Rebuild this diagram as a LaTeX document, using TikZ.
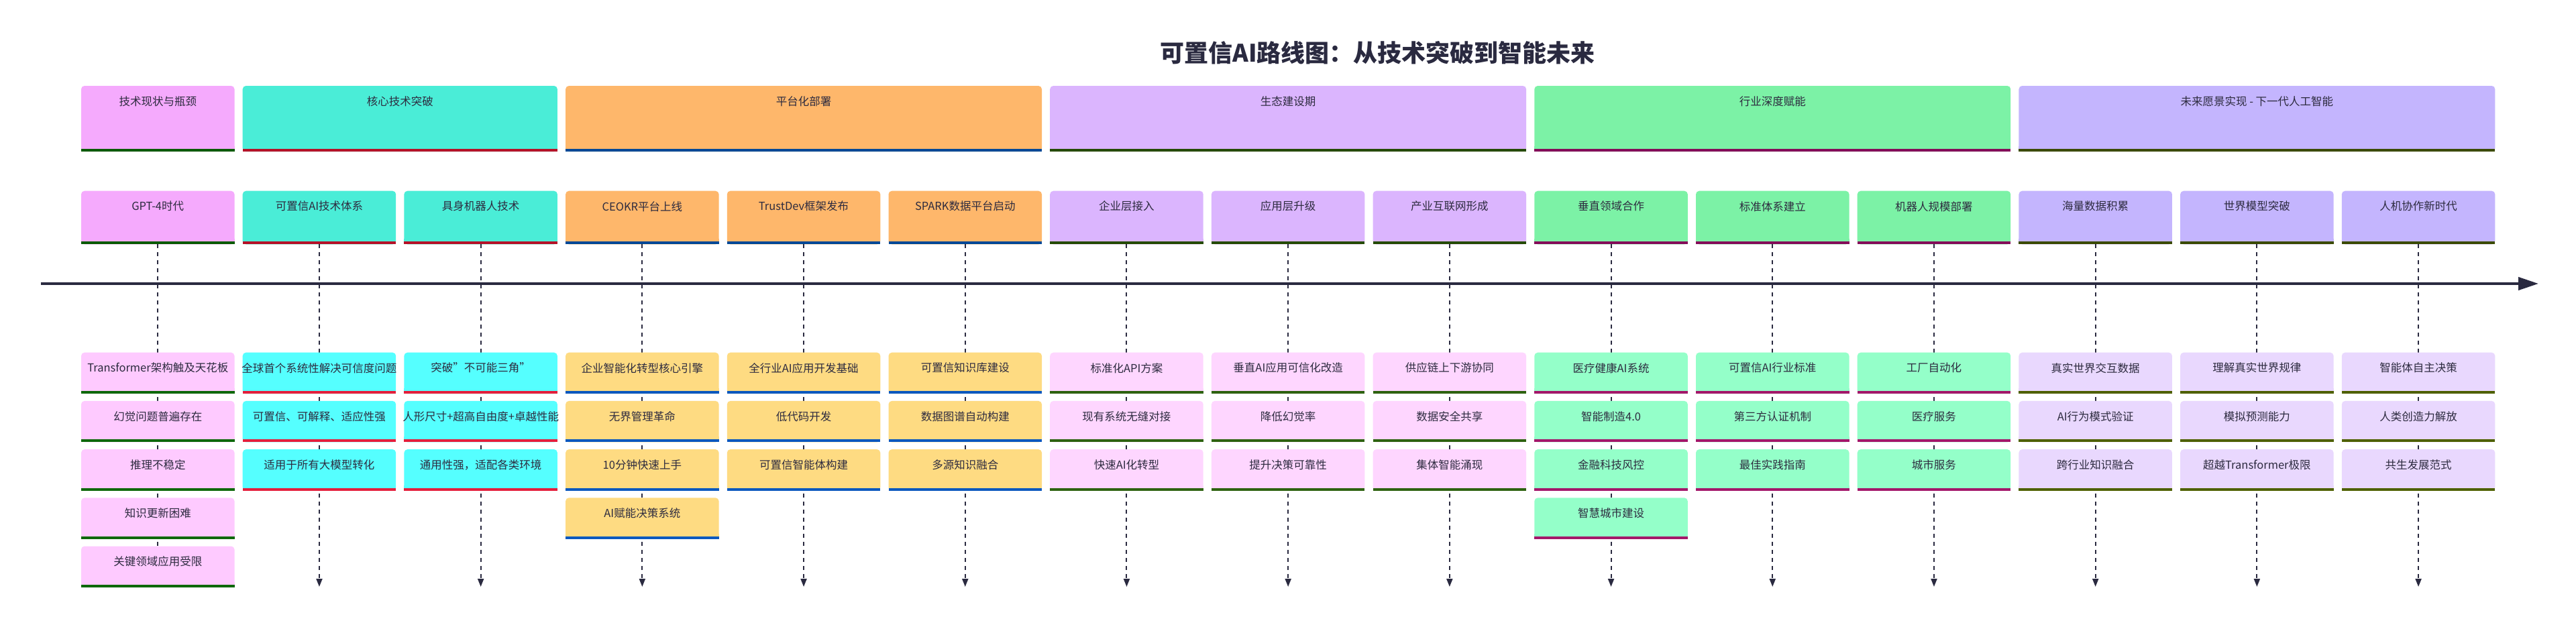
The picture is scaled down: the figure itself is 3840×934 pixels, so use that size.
\documentclass[tikz,border=0pt]{standalone}
\usepackage{fontspec}
\setmainfont{Noto Sans CJK SC}
\usetikzlibrary{arrows.meta,calc}

\definecolor{txt}{HTML}{2D2B3F}
\definecolor{axiscol}{HTML}{2A2A40}
% section 1
\definecolor{Afill}{HTML}{F5AAFD}\definecolor{Aband}{HTML}{0A5A02}
\definecolor{Aevfill}{HTML}{FECAFF}\definecolor{Aevband}{HTML}{0E680A}
% section 2
\definecolor{Bfill}{HTML}{4AEDD7}\definecolor{Bband}{HTML}{B51228}
\definecolor{Bevfill}{HTML}{55FFFF}\definecolor{Bevband}{HTML}{E41F3C}
% section 3
\definecolor{Cfill}{HTML}{FEB76B}\definecolor{Cband}{HTML}{014896}
\definecolor{Cevfill}{HTML}{FEDB82}\definecolor{Cevband}{HTML}{0B58BE}
% section 4
\definecolor{Dfill}{HTML}{DBB5FE}\definecolor{Dband}{HTML}{254A02}
\definecolor{Devfill}{HTML}{FED6FF}\definecolor{Devband}{HTML}{2E6210}
% section 5
\definecolor{Efill}{HTML}{7CF2A6}\definecolor{Eband}{HTML}{840D59}
\definecolor{Eevfill}{HTML}{94FFC9}\definecolor{Eevband}{HTML}{A3176A}
% section 6
\definecolor{Ffill}{HTML}{C4B5FE}\definecolor{Fband}{HTML}{3B4A01}
\definecolor{Fevfill}{HTML}{E9D8FE}\definecolor{Fevband}{HTML}{4E6000}

\tikzset{
  boxnode/.style={inner sep=0pt, outer sep=0pt, rounded corners=5pt, anchor=north, draw=none},
  lbl/.style={inner sep=0pt, text=txt, font=\fontsize{16.5}{19}\selectfont},
  titlestyle/.style={inner sep=0pt, text=axiscol, font=\fontsize{36}{40}\selectfont\bfseries},
  axisline/.style={draw=axiscol, line width=4pt, -{Triangle[length=30pt,width=19pt]}},
  flow/.style={draw=axiscol, line width=2pt, dash pattern=on 6pt off 6pt, -{Triangle[length=12pt,width=9pt]}},
}

% name, cx, top, height, width, fill, band, text
\newcommand\tlbox[8]{%
  \node[boxnode, fill=#6, minimum width=#5pt, minimum height=#4pt] (#1) at (#2,#3) {};
  \fill[#6] ($(#1.south west)+(0,-8)$) rectangle (#1.south east);
  \fill[#7] ($(#1.south west)+(0,-4)$) rectangle (#1.south east);
  \node[lbl] (#1-l) at ($(#1.north)+(0,23)$) {#8};
}

% index, key, task text, events
\newcommand\tlcol[4]{%
  \pgfmathsetmacro\cx{235.25+240.7*#1}
  \tlbox{task#1}{\cx}{284.7}{79.6}{228.5}{#2fill}{#2band}{#3}
  \coordinate (end#1) at (\cx,875);
  \draw[flow] (task#1.south) -- (end#1);
  \foreach \ev [count=\k from 0] in {#4} {
    \pgfmathsetmacro\ty{525.7+72.2*\k}
    \tlbox{ev#1-\k}{\cx}{\ty}{61.5}{228.5}{#2evfill}{#2evband}{\ev}
  }
}

\begin{document}
\begin{tikzpicture}[x=1pt,y=-1pt]
\fill[white] (0,0) rectangle (3840,934);
\useasboundingbox (0,0) rectangle (3840,934);

\node[titlestyle] (title) at (2053.5,79) {可置信AI路线图：从技术突破到智能未来};

% timeline axis
\coordinate (tlstart) at (60.6,423);
\coordinate (tlend) at (3784,423);
\draw[axisline] (tlstart) -- (tlend);

% sections
\tlbox{secA}{235.25}{128}{98}{228.5}{Afill}{Aband}{技术现状与瓶颈}
\tlbox{secB}{596.3}{128}{98}{469.2}{Bfill}{Bband}{核心技术突破}
\tlbox{secC}{1198.05}{128}{98}{709.9}{Cfill}{Cband}{平台化部署}
\tlbox{secD}{1920.15}{128}{98}{709.9}{Dfill}{Dband}{生态建设期}
\tlbox{secE}{2642.25}{128}{98}{709.9}{Efill}{Eband}{行业深度赋能}
\tlbox{secF}{3364.35}{128}{98}{709.9}{Ffill}{Fband}{未来愿景实现 - 下一代人工智能}

% columns
\tlcol{0}{A}{GPT-4时代}{{Transformer架构触及天花板},{幻觉问题普遍存在},{推理不稳定},{知识更新困难},{关键领域应用受限}}
\tlcol{1}{B}{可置信AI技术体系}{{全球首个系统性解决可信度问题},{可置信、可解释、适应性强},{适用于所有大模型转化}}
\tlcol{2}{B}{具身机器人技术}{{突破"不可能三角"},{人形尺寸+超高自由度+卓越性能},{通用性强，适配各类环境}}
\tlcol{3}{C}{CEOKR平台上线}{{企业智能化转型核心引擎},{无界管理革命},{10分钟快速上手},{AI赋能决策系统}}
\tlcol{4}{C}{TrustDev框架发布}{{全行业AI应用开发基础},{低代码开发},{可置信智能体构建}}
\tlcol{5}{C}{SPARK数据平台启动}{{可置信知识库建设},{数据图谱自动构建},{多源知识融合}}
\tlcol{6}{D}{企业层接入}{{标准化API方案},{现有系统无缝对接},{快速AI化转型}}
\tlcol{7}{D}{应用层升级}{{垂直AI应用可信化改造},{降低幻觉率},{提升决策可靠性}}
\tlcol{8}{D}{产业互联网形成}{{供应链上下游协同},{数据安全共享},{集体智能涌现}}
\tlcol{9}{E}{垂直领域合作}{{医疗健康AI系统},{智能制造4.0},{金融科技风控},{智慧城市建设}}
\tlcol{10}{E}{标准体系建立}{{可置信AI行业标准},{第三方认证机制},{最佳实践指南}}
\tlcol{11}{E}{机器人规模部署}{{工厂自动化},{医疗服务},{城市服务}}
\tlcol{12}{F}{海量数据积累}{{真实世界交互数据},{AI行为模式验证},{跨行业知识融合}}
\tlcol{13}{F}{世界模型突破}{{理解真实世界规律},{模拟预测能力},{超越Transformer极限}}
\tlcol{14}{F}{人机协作新时代}{{智能体自主决策},{人类创造力解放},{共生发展范式}}
\end{tikzpicture}
\end{document}
